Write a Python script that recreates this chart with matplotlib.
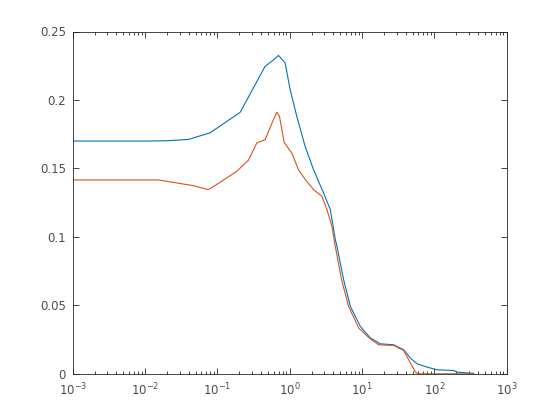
import numpy as np
import matplotlib.pyplot as plt
from matplotlib.ticker import NullFormatter

# blue series
x_blue = [0.001, 0.01, 0.02, 0.04, 0.079, 0.15, 0.206, 0.255, 0.456, 0.565, 0.698, 0.863,
          1.01, 1.25, 1.63, 2.13, 2.93, 3.63, 4.26, 4.49, 5.55, 6.87, 9.45, 13, 17.9, 27.3,
          37.6, 46.5, 57.6, 79, 108, 185, 206, 350]
y_blue = [0.170, 0.170, 0.1702, 0.1712, 0.176, 0.186, 0.191, 0.200, 0.2246, 0.2283, 0.2325, 0.227,
          0.2076, 0.188, 0.166, 0.149, 0.132, 0.120, 0.098, 0.093, 0.0687, 0.0492, 0.0346, 0.0261, 0.0219, 0.0212,
          0.0175, 0.0115, 0.0073, 0.0049, 0.0029, 0.0024, 0.0012, 0.0003]

# red series
x_red = [0.001, 0.0152, 0.0273, 0.0464, 0.0748, 0.109, 0.185, 0.268, 0.35, 0.456, 0.594, 0.662,
         0.72, 0.836, 1.07, 1.32, 1.63, 2.13, 2.78, 3.26, 3.83, 4.1, 4.26, 5.2, 6.5, 8.96,
         13, 16.9, 27.3, 37.6, 44, 54.6, 60, 200, 350]
y_red = [0.1416, 0.1416, 0.1394, 0.1374, 0.1345, 0.1399, 0.1479, 0.156, 0.1686, 0.171, 0.1857, 0.191,
         0.188, 0.169, 0.161, 0.149, 0.142, 0.1345, 0.1296, 0.120, 0.1077, 0.098, 0.093, 0.0687, 0.0492, 0.0334,
         0.0254, 0.0212, 0.0207, 0.017, 0.0102, 0.0012, 0.0, 0.0, 0.0]

x_ticks = [1e-3, 1e-2, 1e-1, 1e0, 1e1, 1e2, 1e3]
x_labels = ['$10^{-3}$', '$10^{-2}$', '$10^{-1}$', '$10^{0}$', '$10^{1}$', '$10^{2}$', '$10^{3}$']
y_ticks = [0, 0.05, 0.1, 0.15, 0.2, 0.25]
y_labels = ['0', '0.05', '0.1', '0.15', '0.2', '0.25']

plt.rcParams['font.family'] = 'DejaVu Sans'
fig = plt.figure(figsize=(5.6, 4.2), dpi=100)
ax = fig.add_axes([0.13, 0.11, 0.775, 0.815])

ax.semilogx(x_blue, y_blue, color='#0072BD', lw=0.8)
ax.semilogx(x_red, y_red, color='#D95319', lw=0.8)

ax.set_xlim(1e-3, 1e3)
ax.set_ylim(0, 0.25)
ax.set_xticks(x_ticks)
ax.set_xticklabels(x_labels)
ax.set_yticks(y_ticks)
ax.set_yticklabels(y_labels)
ax.xaxis.set_minor_formatter(NullFormatter())

for s in ax.spines.values():
    s.set_color('#262626')
    s.set_linewidth(0.6)
ax.tick_params(which='both', direction='in', top=True, right=True,
               colors='#262626', labelcolor='#4d4d4d', labelsize=8.5, width=0.6)
ax.tick_params(which='major', length=4)
ax.tick_params(which='minor', length=2)
ax.tick_params(axis='y', pad=5)
ax.tick_params(axis='x', pad=6)

fig.savefig('out.png')
